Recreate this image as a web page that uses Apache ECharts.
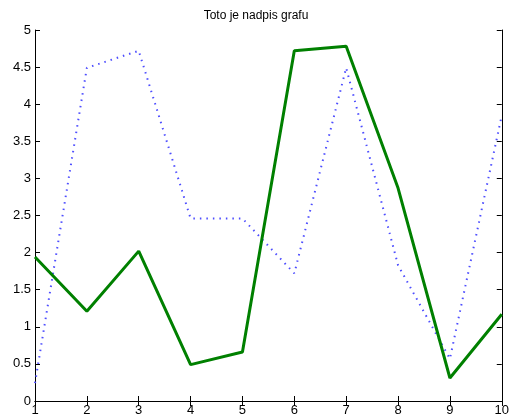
<!DOCTYPE html>
<html>
<head>
<meta charset="utf-8">
<script src="https://cdn.jsdelivr.net/npm/echarts@6/dist/echarts.min.js"></script>
<style>
  html, body { margin: 0; padding: 0; background: #fff; }
  #chart { width: 512px; height: 419px; }
</style>
</head>
<body>
<div id="chart"></div>
<script>
// values
const xs = [1, 2, 3, 4, 5, 6, 7, 8, 9, 10];
const greenVals = [1.94, 1.21, 2.02, 0.49, 0.66, 4.72, 4.78, 2.87, 0.31, 1.17];
const blueVals  = [0.24, 4.49, 4.72, 2.46, 2.46, 1.72, 4.49, 1.83, 0.57, 3.85];

const font = 'Liberation Sans, Arial, sans-serif';
const pair = vals => xs.map((x, i) => [x, vals[i]]);

const tickStyle = { inside: true, length: 5, lineStyle: { color: '#000' } };
const lineStyle = { lineStyle: { color: '#000', width: 1 } };

const chart = echarts.init(document.getElementById('chart'));
chart.setOption({
  animation: false,
  backgroundColor: '#fff',
  title: {
    text: 'Toto je nadpis grafu',
    left: 'center',
    top: 5,
    textStyle: { fontFamily: font, fontSize: 12, fontWeight: 'normal', color: '#000' },
  },
  grid: { left: 35, right: 9, top: 30, bottom: 18 },
  xAxis: [
    {
      type: 'value', min: 1, max: 10, interval: 1,
      axisLine: lineStyle, axisTick: tickStyle, splitLine: { show: false },
      axisLabel: { color: '#000', fontFamily: font, fontSize: 13, margin: 3 },
    },
    {
      type: 'value', position: 'top', min: 1, max: 10, interval: 1,
      axisLine: lineStyle, axisTick: tickStyle, splitLine: { show: false },
      axisLabel: { show: false },
    },
  ],
  yAxis: [
    {
      type: 'value', min: 0, max: 5, interval: 0.5,
      axisLine: { show: true, ...lineStyle }, axisTick: { show: true, ...tickStyle }, splitLine: { show: false },
      axisLabel: { color: '#000', fontFamily: font, fontSize: 13, margin: 4 },
    },
    {
      type: 'value', position: 'right', min: 0, max: 5, interval: 0.5,
      axisLine: { show: true, ...lineStyle }, axisTick: { show: true, ...tickStyle }, splitLine: { show: false },
      axisLabel: { show: false },
    },
  ],
  series: [
    {
      type: 'line',
      data: pair(blueVals),
      showSymbol: false,
      lineStyle: { color: '#4d4dff', width: 2, type: [1.5, 5] },
      z: 2,
    },
    {
      type: 'line',
      data: pair(greenVals),
      showSymbol: false,
      lineStyle: { color: '#008000', width: 3 },
      z: 3,
    },
  ],
});
</script>
</body>
</html>
